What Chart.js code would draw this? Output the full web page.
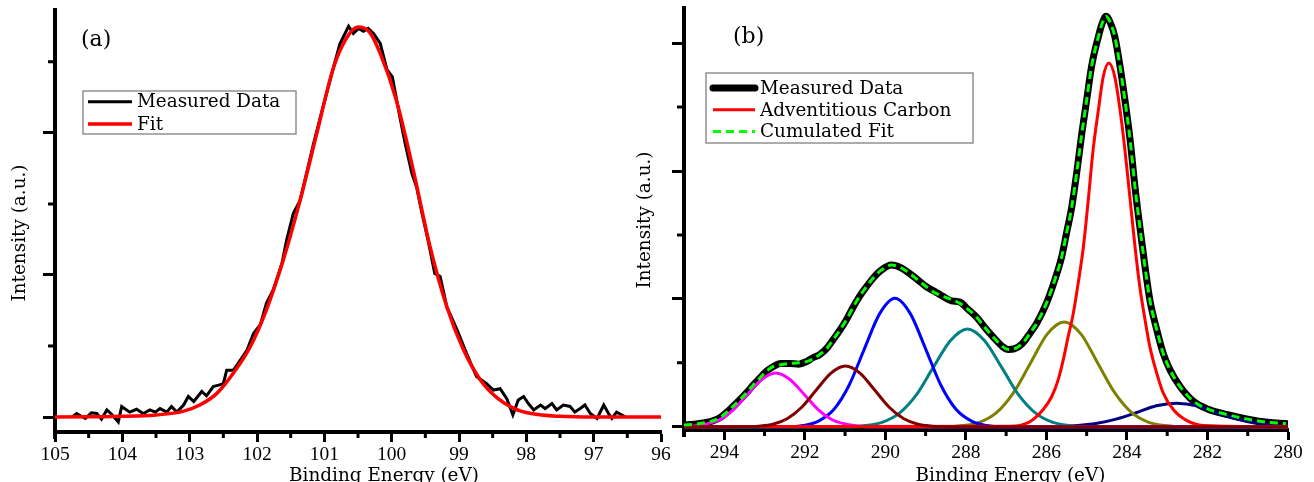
<!DOCTYPE html>
<html>
<head>
<meta charset="utf-8">
<title>XPS spectra</title>
<script src="https://cdn.jsdelivr.net/npm/chart.js@4/dist/chart.umd.min.js"></script>
<style>
    html, body { margin: 0; padding: 0; background: #fff; }
    #wrap { position: relative; width: 1314px; height: 482px; overflow: hidden; }
    canvas { position: absolute; top: 0; }
    #chartA { left: 0; }
    #chartB { left: 620px; }
</style>
</head>
<body>
<div id="wrap">
    <canvas id="chartA" width="680" height="482"></canvas>
    <canvas id="chartB" width="694" height="482"></canvas>
</div>
<script>
(function () {

    // ---- panel (a) ----
    var energyA = [104.75, 104.68, 104.55, 104.46, 104.38, 104.31, 104.23, 104.16, 104.06, 104.01,
        103.89, 103.79, 103.69, 103.59, 103.51, 103.44, 103.34, 103.27, 103.19, 103.09,
        103.02, 102.94, 102.82, 102.75, 102.65, 102.57, 102.50, 102.45, 102.35, 102.25,
        102.15, 102.05, 101.95, 101.86, 101.76, 101.63, 101.56, 101.46, 101.36, 101.26,
        101.16, 101.06, 100.96, 100.87, 100.77, 100.64, 100.57, 100.49, 100.42, 100.35,
        100.27, 100.17, 100.07, 99.99, 99.88, 99.80, 99.70, 99.63, 99.55, 99.46,
        99.36, 99.28, 99.18, 99.03, 98.89, 98.74, 98.59, 98.49, 98.39, 98.29,
        98.20, 98.12, 98.04, 97.97, 97.89, 97.79, 97.72, 97.62, 97.55, 97.45,
        97.35, 97.28, 97.20, 97.13, 97.05, 96.95, 96.85, 96.78, 96.73, 96.66,
        96.58, 96.53];
    var measuredA = [0.00, 0.05, -0.02, 0.06, 0.05, -0.03, 0.10, 0.04, -0.07, 0.15,
        0.07, 0.11, 0.05, 0.10, 0.07, 0.12, 0.07, 0.15, 0.07, 0.17,
        0.29, 0.22, 0.36, 0.30, 0.43, 0.45, 0.47, 0.66, 0.66, 0.80,
        0.94, 1.18, 1.30, 1.60, 1.79, 2.16, 2.49, 2.87, 3.05, 3.45,
        3.85, 4.22, 4.58, 4.90, 5.25, 5.50, 5.40, 5.47, 5.43, 5.47,
        5.40, 5.26, 4.89, 4.79, 4.23, 3.85, 3.43, 3.24, 2.87, 2.49,
        2.02, 1.98, 1.55, 1.23, 0.90, 0.57, 0.47, 0.38, 0.40, 0.26,
        0.03, 0.24, 0.29, 0.19, 0.10, 0.17, 0.12, 0.19, 0.10, 0.17,
        0.15, 0.07, 0.12, 0.17, 0.05, -0.02, 0.17, 0.05, -0.02, 0.07,
        0.03, 0.00];
    var fitEnergyA = [105, 104.5, 104, 103.5, 103.1, 102.85, 102.6, 102.35, 102.1, 101.86,
        101.61, 101.36, 101.11, 100.87, 100.68, 100.5, 100.33, 100.17, 99.93, 99.68,
        99.43, 99.18, 98.93, 98.68, 98.42, 98.18, 97.93, 97.5, 97, 96];
    var fitA = [0.00, 0.005, 0.01, 0.03, 0.08, 0.17, 0.33, 0.62, 0.99, 1.51,
        2.21, 3.05, 4.00, 4.90, 5.32, 5.49, 5.42, 5.12, 4.46, 3.48,
        2.40, 1.55, 0.94, 0.52, 0.26, 0.12, 0.05, 0.01, 0.00, 0.00];
    var xMajorA = [105, 104, 103, 102, 101, 100, 99, 98, 97, 96];
    var xMinorA = [104.5, 103.5, 102.5, 101.5, 100.5, 99.5, 98.5, 97.5, 96.5];
    var yMajorA = [0, 2, 4];
    var yMinorA = [1, 3, 5];

    // ---- panel (b) ----
    var energyB = [295.0, 294.75, 294.53, 294.3, 294.11, 293.95, 293.78, 293.6, 293.45, 293.3,
        293.12, 292.95, 292.79, 292.6, 292.38, 292.15, 291.96, 291.8, 291.63, 291.45,
        291.3, 291.13, 290.97, 290.8, 290.64, 290.47, 290.31, 290.1, 289.85, 289.62,
        289.4, 289.2, 288.98, 288.78, 288.57, 288.35, 288.15, 287.95, 287.74, 287.55,
        287.33, 287.08, 286.95, 286.8, 286.6, 286.41, 286.24, 286.0, 285.79, 285.62,
        285.5, 285.37, 285.25, 285.12, 285.0, 284.88, 284.71, 284.62, 284.52, 284.4,
        284.3, 284.17, 284.05, 283.92, 283.8, 283.68, 283.55, 283.43, 283.26, 283.1,
        282.93, 282.68, 282.35, 282.0, 281.5, 281.0, 280.5, 280.05];
    var measuredB = [0.03, 0.04, 0.06, 0.09, 0.14, 0.22, 0.32, 0.43, 0.53, 0.64,
        0.76, 0.87, 0.94, 0.99, 0.99, 0.98, 1.02, 1.08, 1.13, 1.23,
        1.36, 1.51, 1.67, 1.87, 2.04, 2.19, 2.32, 2.45, 2.53, 2.49,
        2.40, 2.30, 2.19, 2.12, 2.04, 1.97, 1.95, 1.84, 1.72, 1.57,
        1.41, 1.25, 1.21, 1.22, 1.30, 1.46, 1.62, 1.93, 2.30, 2.66,
        3.03, 3.44, 3.96, 4.59, 5.11, 5.63, 6.10, 6.30, 6.42, 6.30,
        6.10, 5.63, 5.11, 4.48, 3.75, 3.13, 2.50, 1.98, 1.52, 1.15,
        0.89, 0.63, 0.40, 0.28, 0.19, 0.12, 0.07, 0.05];
    var cumulatedB = [0.03, 0.04, 0.06, 0.09, 0.14, 0.22, 0.32, 0.43, 0.53, 0.64,
        0.76, 0.87, 0.94, 0.97, 0.99, 1.00, 1.02, 1.06, 1.13, 1.23,
        1.36, 1.51, 1.67, 1.87, 2.04, 2.19, 2.32, 2.45, 2.53, 2.49,
        2.40, 2.30, 2.19, 2.10, 2.04, 1.99, 1.93, 1.84, 1.72, 1.57,
        1.41, 1.25, 1.21, 1.22, 1.30, 1.46, 1.62, 1.93, 2.30, 2.66,
        3.03, 3.44, 3.96, 4.59, 5.11, 5.63, 6.10, 6.30, 6.42, 6.30,
        6.10, 5.63, 5.11, 4.48, 3.75, 3.13, 2.50, 1.98, 1.52, 1.15,
        0.89, 0.63, 0.40, 0.28, 0.19, 0.12, 0.07, 0.05];

    // fitted components, highest binding energy first
    var comp1E = [295, 294.82, 294.47, 294.12, 293.77, 293.42, 293.07, 292.72, 292.37, 292.02, 291.67, 291.32, 290.97, 290.62, 290.27, 280];
    var comp1I = [0.005, 0.01, 0.04, 0.11, 0.27, 0.51, 0.74, 0.84, 0.74, 0.51, 0.27, 0.11, 0.04, 0.01, 0.00, 0.00];
    var comp2E = [295, 293.51, 293.15, 292.79, 292.43, 292.07, 291.71, 291.35, 290.99, 290.63, 290.27, 289.91, 289.55, 289.19, 288.83, 288.47, 280];
    var comp2I = [0, 0.00, 0.01, 0.04, 0.13, 0.31, 0.58, 0.84, 0.95, 0.84, 0.58, 0.31, 0.13, 0.04, 0.01, 0.00, 0];
    var comp3E = [295, 292.42, 292.04, 291.66, 291.28, 290.90, 290.52, 290.14, 289.76, 289.38, 289.00, 288.62, 288.24, 287.86, 287.48, 287.10, 280];
    var comp3I = [0, 0.00, 0.02, 0.09, 0.27, 0.65, 1.22, 1.77, 2.01, 1.77, 1.22, 0.65, 0.27, 0.09, 0.02, 0.00, 0];
    var comp4E = [295, 290.93, 290.50, 290.08, 289.66, 289.23, 288.81, 288.38, 287.96, 287.54, 287.11, 286.69, 286.26, 285.84, 285.41, 284.99, 280];
    var comp4I = [0, 0.00, 0.02, 0.07, 0.21, 0.50, 0.93, 1.35, 1.53, 1.35, 0.93, 0.50, 0.21, 0.07, 0.02, 0.00, 0];
    var comp5E = [295, 288.50, 288.08, 287.66, 287.24, 286.82, 286.40, 285.98, 285.56, 285.14, 284.72, 284.30, 283.88, 283.46, 283.04, 282.62, 280];
    var comp5I = [0, 0.00, 0.02, 0.07, 0.22, 0.53, 0.99, 1.45, 1.64, 1.45, 0.99, 0.53, 0.22, 0.07, 0.02, 0.00, 0];
    var carbonE = [295, 286.9, 286.41, 286.08, 285.87, 285.71, 285.58, 285.46, 285.33, 285.21,
        285.08, 284.96, 284.84, 284.71, 284.59, 284.45, 284.30, 284.17, 284.05, 283.92,
        283.80, 283.68, 283.55, 283.43, 283.26, 283.10, 282.85, 282.52, 282.1, 280];
    var carbonI = [0, 0.01, 0.08, 0.27, 0.47, 0.73, 1.05, 1.41, 1.78, 2.25,
        2.82, 3.55, 4.33, 4.95, 5.47, 5.69, 5.47, 4.95, 4.33, 3.55,
        2.82, 2.19, 1.67, 1.25, 0.84, 0.53, 0.27, 0.10, 0.02, 0];
    var comp7E = [295, 286.27, 285.77, 285.27, 284.77, 284.27, 283.77, 283.27, 282.77, 282.27, 281.77, 281.27, 280.77, 280.27, 280];
    var comp7I = [0, 0.00, 0.00, 0.02, 0.05, 0.12, 0.22, 0.33, 0.37, 0.33, 0.22, 0.12, 0.05, 0.02, 0.01];

    var xMajorB = [294, 292, 290, 288, 286, 284, 282, 280];
    var xMinorB = [293, 291, 289, 287, 285, 283, 281];
    var yMajorB = [0, 2, 4, 6];
    var yMinorB = [1, 3, 5];

    var SERIF = '"DejaVu Serif", serif';
    var TEXT_PX = 18.4;
    var tickFont = { family: '"Liberation Serif", serif', size: 19.5 };

    function pts(xs, ys) {
        return xs.map(function (x, i) { return { x: x, y: ys[i] }; });
    }

    function xAxis(min, max, majors, height) {
        return {
            type: 'linear', min: min, max: max, reverse: true,
            border: { display: true, width: 4, color: '#000' },
            grid: { drawOnChartArea: false, drawTicks: true, tickLength: 10, tickWidth: 3, tickColor: '#000' },
            ticks: { color: '#000', font: tickFont, padding: 1, maxRotation: 0, autoSkip: false },
            afterBuildTicks: function (s) { s.ticks = majors.map(function (v) { return { value: v }; }); },
            afterFit: function (s) { s.height = height; s.paddingLeft = 0; s.paddingRight = 0; }
        };
    }

    function yAxis(min, max, majors, width) {
        return {
            type: 'linear', min: min, max: max,
            border: { display: true, width: 4, color: '#000' },
            grid: { drawOnChartArea: false, drawTicks: true, tickLength: 12, tickWidth: 3, tickColor: '#000' },
            ticks: { display: false },
            afterBuildTicks: function (s) { s.ticks = majors.map(function (v) { return { value: v }; }); },
            afterFit: function (s) { s.width = width; s.paddingTop = 0; s.paddingBottom = 0; }
        };
    }

    // minor ticks, axis titles, panel letter
    var decor = {
        id: 'decor',
        afterDraw: function (chart, args, o) {
            var ctx = chart.ctx, area = chart.chartArea;
            var x = chart.scales.x, y = chart.scales.y;
            ctx.save();
            ctx.strokeStyle = '#000';
            ctx.lineWidth = 3;
            ctx.beginPath();
            o.xMinor.forEach(function (v) {
                var px = x.getPixelForValue(v);
                ctx.moveTo(px, area.bottom); ctx.lineTo(px, area.bottom + 6);
            });
            o.yMinor.forEach(function (v) {
                var py = y.getPixelForValue(v);
                ctx.moveTo(area.left, py); ctx.lineTo(area.left - 7, py);
            });
            ctx.stroke();
            // y axis runs a little past the x axis
            ctx.lineWidth = 4;
            ctx.beginPath();
            ctx.moveTo(area.left, area.bottom); ctx.lineTo(area.left, area.bottom + 7);
            ctx.stroke();

            ctx.fillStyle = '#000';
            ctx.font = TEXT_PX + 'px ' + SERIF;
            ctx.textAlign = 'center';
            ctx.textBaseline = 'alphabetic';
            ctx.fillText(o.xTitle.text, o.xTitle.x, o.xTitle.y);

            ctx.save();
            ctx.translate(o.yTitle.x, o.yTitle.y);
            ctx.rotate(-Math.PI / 2);
            ctx.fillText(o.yTitle.text, 0, 0);
            ctx.restore();

            ctx.font = '22px ' + SERIF;
            ctx.textAlign = 'left';
            ctx.fillText(o.panel.text, o.panel.x, o.panel.y);
            ctx.restore();
        }
    };

    // framed legend placed inside the plot
    var boxLegend = {
        id: 'boxLegend',
        afterDraw: function (chart, args, o) {
            var ctx = chart.ctx;
            ctx.save();
            ctx.fillStyle = '#fff';
            ctx.fillRect(o.box[0], o.box[1], o.box[2], o.box[3]);
            ctx.strokeStyle = '#808080';
            ctx.lineWidth = 1.3;
            ctx.strokeRect(o.box[0], o.box[1], o.box[2], o.box[3]);
            o.rows.forEach(function (idx, i) {
                var ds = chart.data.datasets[idx];
                var yy = o.y0 + i * o.dy;
                ctx.beginPath();
                ctx.setLineDash(ds.borderDash || []);
                ctx.lineWidth = ds.borderWidth;
                ctx.strokeStyle = ds.borderColor;
                ctx.lineCap = ds.borderCapStyle || 'butt';
                ctx.moveTo(o.x0, yy); ctx.lineTo(o.x1, yy);
                ctx.stroke();
                ctx.setLineDash([]);
                ctx.fillStyle = '#000';
                ctx.font = TEXT_PX + 'px ' + SERIF;
                ctx.textAlign = 'left';
                ctx.textBaseline = 'middle';
                ctx.fillText(ds.label, o.tx, yy + 1);
            });
            ctx.restore();
        }
    };

    function line(label, xs, ys, color, width, extra) {
        var ds = {
            label: label, data: pts(xs, ys), borderColor: color, backgroundColor: color,
            borderWidth: width, pointRadius: 0, fill: false, cubicInterpolationMode: 'monotone'
        };
        Object.keys(extra || {}).forEach(function (k) { ds[k] = extra[k]; });
        return ds;
    }

    new Chart(document.getElementById('chartA'), {
        type: 'line',
        data: {
            datasets: [
                line('Measured Data', energyA, measuredA, '#000', 3, { order: 1, cubicInterpolationMode: 'default', tension: 0 }),
                line('Fit', fitEnergyA, fitA, '#ff0000', 3.5, { order: 0 })
            ]
        },
        options: {
            responsive: false, animation: false, devicePixelRatio: 1,
            layout: { padding: { left: 0, top: 10, right: 19, bottom: 0 } },
            scales: {
                x: xAxis(96, 105, xMajorA, 50),
                y: yAxis(-0.21, 5.73, yMajorA, 55)
            },
            plugins: {
                legend: { display: false }, tooltip: { enabled: false },
                decor: {
                    xMinor: xMinorA, yMinor: yMinorA,
                    xTitle: { text: 'Binding Energy (eV)', x: 384, y: 481 },
                    yTitle: { text: 'Intensity (a.u.)', x: 24.5, y: 233 },
                    panel: { text: '(a)', x: 81, y: 46 }
                },
                boxLegend: { box: [83, 91, 213, 43], rows: [0, 1], x0: 88, x1: 132, tx: 137, y0: 101.7, dy: 22.3 }
            }
        },
        plugins: [decor, boxLegend]
    });

    new Chart(document.getElementById('chartB'), {
        type: 'line',
        data: {
            datasets: [
                line('Measured Data', energyB, measuredB, '#000', 7, { order: 10, borderCapStyle: 'round', borderJoinStyle: 'round' }),
                line('Adventitious Carbon', carbonE, carbonI, '#ff0000', 3, { order: 2 }),
                line('Cumulated Fit', energyB, cumulatedB, '#00ff00', 3, { order: 0, borderDash: [8, 5] }),
                line('C 1', comp1E, comp1I, '#ff00ff', 3, { order: 3 }),
                line('C 2', comp2E, comp2I, '#800000', 3, { order: 1 }),
                line('C 3', comp3E, comp3I, '#0000ff', 3, { order: 4 }),
                line('C 4', comp4E, comp4I, '#008080', 3, { order: 5 }),
                line('C 5', comp5E, comp5I, '#808000', 3, { order: 6 }),
                line('C 7', comp7E, comp7I, '#000080', 3, { order: 7 })
            ]
        },
        options: {
            responsive: false, animation: false, devicePixelRatio: 1,
            layout: { padding: { left: 0, top: 8, right: 26, bottom: 0 } },
            scales: {
                x: xAxis(280, 295, xMajorB, 52),
                y: yAxis(-0.05, 6.55, yMajorB, 64)
            },
            plugins: {
                legend: { display: false }, tooltip: { enabled: false },
                decor: {
                    xMinor: xMinorB, yMinor: yMinorB,
                    xTitle: { text: 'Binding Energy (eV)', x: 390.5, y: 481 },
                    yTitle: { text: 'Intensity (a.u.)', x: 29.5, y: 220 },
                    panel: { text: '(b)', x: 113, y: 43 }
                },
                boxLegend: { box: [86, 73, 267, 70], rows: [0, 1, 2], x0: 93, x1: 135, tx: 140, y0: 88, dy: 21.8 }
            }
        },
        plugins: [decor, boxLegend]
    });
})();
</script>
</body>
</html>
